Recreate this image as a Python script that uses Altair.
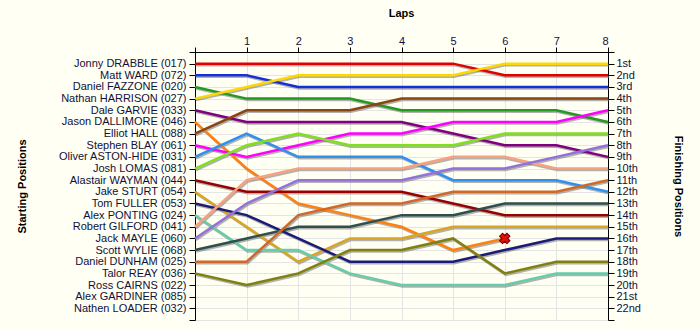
import altair as alt
import pandas as pd

names = ["Jonny DRABBLE (017)", "Matt WARD (072)", "Daniel FAZZONE (020)",
         "Nathan HARRISON (027)", "Dale GARVIE (033)", "Jason DALLIMORE (046)",
         "Elliot HALL (088)", "Stephen BLAY (061)", "Oliver ASTON-HIDE (031)",
         "Josh LOMAS (081)", "Alastair WAYMAN (044)", "Jake STURT (054)",
         "Tom FULLER (053)", "Alex PONTING (024)", "Robert GILFORD (041)",
         "Jack MAYLE (060)", "Scott WYLIE (068)", "Daniel DUNHAM (025)",
         "Talor REAY (036)", "Ross CAIRNS (022)", "Alex GARDINER (085)",
         "Nathen LOADER (032)"]

ordinals = ["1st", "2nd", "3rd", "4th", "5th", "6th", "7th", "8th", "9th", "10th",
            "11th", "12th", "13th", "14th", "15th", "16th", "17th", "18th", "19th",
            "20th", "21st", "22nd"]

laps = [0, 1, 2, 3, 4, 5, 6, 7, 8]

positions = {
    "Jonny DRABBLE (017)":     [1, 1, 1, 1, 1, 1, 2, 2, 2],
    "Matt WARD (072)":         [2, 2, 3, 3, 3, 3, 3, 3, 3],
    "Daniel FAZZONE (020)":    [3, 4, 4, 4, 5, 5, 5, 5, 6],
    "Nathan HARRISON (027)":   [4, 3, 2, 2, 2, 2, 1, 1, 1],
    "Dale GARVIE (033)":       [5, 6, 6, 6, 6, 7, 8, 8, 9],
    "Jason DALLIMORE (046)":   [6, 10, 13, 14, 15, 17, 16],
    "Elliot HALL (088)":       [7, 5, 5, 5, 4, 4, 4, 4, 4],
    "Stephen BLAY (061)":      [8, 9, 8, 7, 7, 6, 6, 6, 5],
    "Oliver ASTON-HIDE (031)": [9, 7, 9, 9, 9, 11, 11, 11, 12],
    "Josh LOMAS (081)":        [10, 8, 7, 8, 8, 8, 7, 7, 7],
    "Alastair WAYMAN (044)":   [11, 12, 12, 12, 12, 13, 14, 14, 14],
    "Jake STURT (054)":        [12, 15, 18, 16, 16, 15, 15, 15, 15],
    "Tom FULLER (053)":        [13, 14, 16, 18, 18, 18, 17, 16, 16],
    "Alex PONTING (024)":      [14, 17, 17, 19, 20, 20, 20, 19, 19],
    "Robert GILFORD (041)":    [15, 11, 10, 10, 10, 9, 9, 10, 10],
    "Jack MAYLE (060)":        [16, 13, 11, 11, 11, 10, 10, 9, 8],
    "Scott WYLIE (068)":       [17, 16, 15, 15, 14, 14, 13, 13, 13],
    "Daniel DUNHAM (025)":     [18, 18, 14, 13, 13, 12, 12, 12, 11],
    "Talor REAY (036)":        [19, 20, 19, 17, 17, 16, 19, 18, 18],
}

colors = {
    "Jonny DRABBLE (017)": "#E00000",
    "Matt WARD (072)": "#1530D8",
    "Daniel FAZZONE (020)": "#229A22",
    "Nathan HARRISON (027)": "#FFD800",
    "Dale GARVIE (033)": "#800080",
    "Jason DALLIMORE (046)": "#FF8010",
    "Elliot HALL (088)": "#8B4513",
    "Stephen BLAY (061)": "#FF00FF",
    "Oliver ASTON-HIDE (031)": "#2E90F0",
    "Josh LOMAS (081)": "#80E020",
    "Alastair WAYMAN (044)": "#990000",
    "Jake STURT (054)": "#DAA520",
    "Tom FULLER (053)": "#1C1C78",
    "Alex PONTING (024)": "#66CDAA",
    "Robert GILFORD (041)": "#F8A080",
    "Jack MAYLE (060)": "#9370DB",
    "Scott WYLIE (068)": "#2F4F4F",
    "Daniel DUNHAM (025)": "#CD6A2A",
    "Talor REAY (036)": "#808010",
}

retired = ["Jason DALLIMORE (046)"]

rows = []
for drv, pos in positions.items():
    for lap, p in zip(laps, pos):
        rows.append({"driver": drv, "lap": lap, "pos": p})
df = pd.DataFrame(rows)

ret_rows = []
for drv in retired:
    pos = positions[drv]
    ret_rows.append({"driver": drv, "lap": laps[len(pos) - 1], "pos": pos[-1]})
ret_df = pd.DataFrame(ret_rows)

ord_df = pd.DataFrame({"pos": list(range(1, len(ordinals) + 1)),
                       "lap": [8] * len(ordinals)})

FONT = "Liberation Sans"
TXT = "#10103A"

name_expr = "[''," + ",".join("'" + n + "'" for n in names) + ",''][datum.value]"
ord_expr = "[''," + ",".join("'" + o + "'" for o in ordinals) + ",''][datum.value]"

xscale = alt.Scale(domain=[0, 8], nice=False, zero=False)
yscale = alt.Scale(domain=[0, 23], reverse=True, nice=False, zero=False)

xaxis = alt.Axis(orient="top", values=laps, title="Laps", titleFontWeight="bold",
                 titleFontSize=11, titleFont=FONT, titleColor="#000000",
                 titleX=206, titleY=-34, labelFont=FONT, labelFontSize=11,
                 labelColor=TXT, labelExpr="datum.value == 0 ? '' : datum.label",
                 tickColor="#000000", tickSize=5, labelPadding=1,
                 domainColor="#000000", gridColor="#E4E4E4", grid=True)

yaxis_left = alt.Axis(orient="left", values=list(range(0, 24)), labelExpr=name_expr,
                      title="Starting Positions", titleFontWeight="bold", titleFont=FONT,
                      titleFontSize=11, titleColor="#000000", titleAngle=270,
                      titleX=-168, titleY=134, labelFont=FONT, labelFontSize=11,
                      labelColor=TXT, tickColor="#000000", tickSize=6, labelPadding=3,
                      domainColor="#000000", gridColor="#E4E4E4", grid=True)

yaxis_right = alt.Axis(orient="right", values=list(range(0, 24)), labelExpr=ord_expr,
                       title="Finishing Positions", titleFontWeight="bold", titleFont=FONT,
                       titleFontSize=11, titleColor="#000000", titleAngle=90,
                       titleX=64, titleY=134, labelFont=FONT, labelFontSize=11,
                       labelColor=TXT, tickColor="#000000", tickSize=6, labelPadding=2,
                       domainColor="#000000", grid=False)

X = alt.X("lap:Q", scale=xscale, axis=xaxis)
YL = alt.Y("pos:Q", scale=yscale, axis=yaxis_left)

shadow = alt.Chart(df).mark_line(strokeWidth=2.5, color="#666666", opacity=0.5,
                                 xOffset=1, yOffset=1.5).encode(
    x=X, y=YL, detail="driver:N", order="lap:Q",
)

lines = alt.Chart(df).mark_line(strokeWidth=2.5).encode(
    x=X, y=YL,
    color=alt.Color("driver:N", scale=alt.Scale(domain=list(colors.keys()),
                                                range=list(colors.values())),
                    legend=None),
    order="lap:Q",
)

marker = alt.Chart(ret_df).mark_point(shape="cross", angle=45, filled=True,
                                      color="#E01010", stroke="#660000",
                                      strokeWidth=1, size=110, opacity=1).encode(
    x=X, y=YL,
)

left = alt.layer(shadow, lines, marker)

right = alt.Chart(ord_df).mark_point(opacity=0).encode(
    x=X,
    y=alt.Y("pos:Q", scale=yscale, axis=yaxis_right),
)

chart = alt.layer(left, right).resolve_scale(y="independent").properties(
    width=413, height=268,
    padding={"left": 195, "top": 52, "right": 92, "bottom": 10},
    autosize=alt.AutoSizeParams(type="none"),
    background="#FFFFF4",
).configure_view(stroke=None, fill="#FFFFF4")

chart.save("out.html", embed_options={"renderer": "svg", "actions": False})
